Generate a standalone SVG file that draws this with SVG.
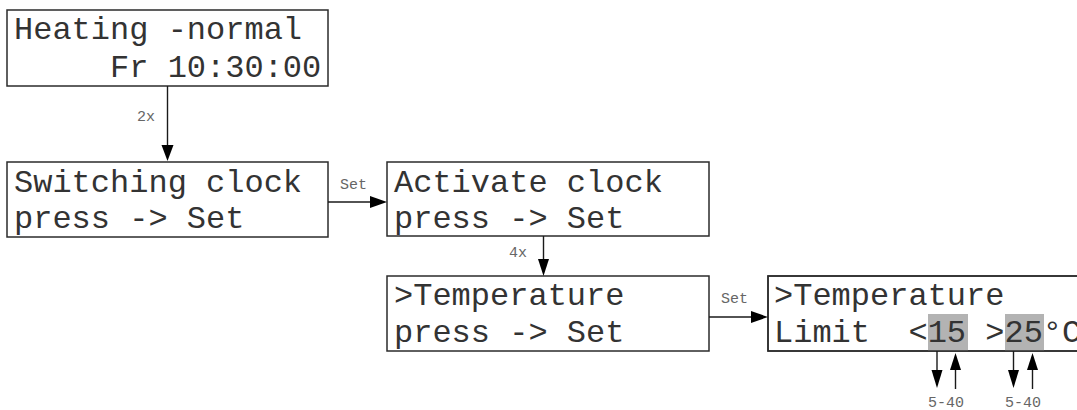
<svg xmlns="http://www.w3.org/2000/svg" width="1077" height="410" viewBox="0 0 1077 410">
  <style>
    .box { fill: #ffffff; stroke: #2b2b2b; stroke-width: 1.5; }
    .lcd { font-family: "Liberation Mono", "Courier New", monospace; font-size: 32px; fill: #333333; white-space: pre; }
    .lbl { font-family: "Liberation Mono", "Courier New", monospace; font-size: 15px; fill: #666666; white-space: pre; }
    .hl { fill: #b3b3b3; }
    .wire { stroke: #1a1a1a; stroke-width: 1.4; fill: none; }
    .head { fill: #000000; }
  </style>

  <!-- display screens -->
  <g id="heating-normal">
    <rect class="box" x="7" y="10" width="321" height="76"/>
    <text class="lcd" x="14" y="39">Heating -normal</text>
    <text class="lcd" x="14" y="77">     Fr 10:30:00</text>
  </g>

  <g id="switching-clock">
    <rect class="box" x="7" y="162" width="321" height="75"/>
    <text class="lcd" x="14" y="192">Switching clock</text>
    <text class="lcd" x="14" y="228">press -&gt; Set</text>
  </g>

  <g id="activate-clock">
    <rect class="box" x="387" y="162" width="322" height="74"/>
    <text class="lcd" x="394" y="192">Activate clock</text>
    <text class="lcd" x="394" y="228">press -&gt; Set</text>
  </g>

  <g id="temperature-menu">
    <rect class="box" x="387" y="276" width="322" height="75"/>
    <text class="lcd" x="394" y="305">&gt;Temperature</text>
    <text class="lcd" x="394" y="342">press -&gt; Set</text>
  </g>

  <g id="temperature-limit">
    <rect class="box" x="768" y="276" width="330" height="75"/>
    <rect class="hl" x="928" y="314" width="40" height="37"/>
    <rect class="hl" x="1005" y="314" width="39" height="37"/>
    <text class="lcd" x="774" y="305">&gt;Temperature</text>
    <text class="lcd" x="774" y="342">Limit  &lt;15 &gt;25°C</text>
    <rect x="768" y="276" width="330" height="75" fill="none" stroke="#2b2b2b" stroke-width="1.5"/>
  </g>

  <!-- transitions -->
  <g id="connectors">
    <line class="wire" x1="167.5" y1="86" x2="167.5" y2="147"/>
    <polygon class="head" points="161.5,145 173.5,145 167.5,161"/>
    <text class="lbl" x="137" y="121">2x</text>

    <line class="wire" x1="328" y1="202" x2="372" y2="202"/>
    <polygon class="head" points="370,196 370,208 387,202"/>
    <text class="lbl" x="340" y="189">Set</text>

    <line class="wire" x1="543.5" y1="236" x2="543.5" y2="261"/>
    <polygon class="head" points="538,259 549,259 543.5,276"/>
    <text class="lbl" x="509" y="257">4x</text>

    <line class="wire" x1="709" y1="317" x2="753" y2="317"/>
    <polygon class="head" points="751,311 751,323 768,317"/>
    <text class="lbl" x="721" y="303">Set</text>

    <!-- adjust lower limit -->
    <line class="wire" x1="937" y1="351" x2="937" y2="372"/>
    <polygon class="head" points="931.5,370 942.5,370 937,388"/>
    <line class="wire" x1="955.5" y1="368" x2="955.5" y2="389"/>
    <polygon class="head" points="950,370 961,370 955.5,353"/>
    <text class="lbl" x="928" y="407">5-40</text>

    <!-- adjust upper limit -->
    <line class="wire" x1="1013.5" y1="351" x2="1013.5" y2="372"/>
    <polygon class="head" points="1008,370 1019,370 1013.5,388"/>
    <line class="wire" x1="1032.5" y1="368" x2="1032.5" y2="389"/>
    <polygon class="head" points="1027,370 1038,370 1032.5,353"/>
    <text class="lbl" x="1005" y="407">5-40</text>
  </g>
</svg>
